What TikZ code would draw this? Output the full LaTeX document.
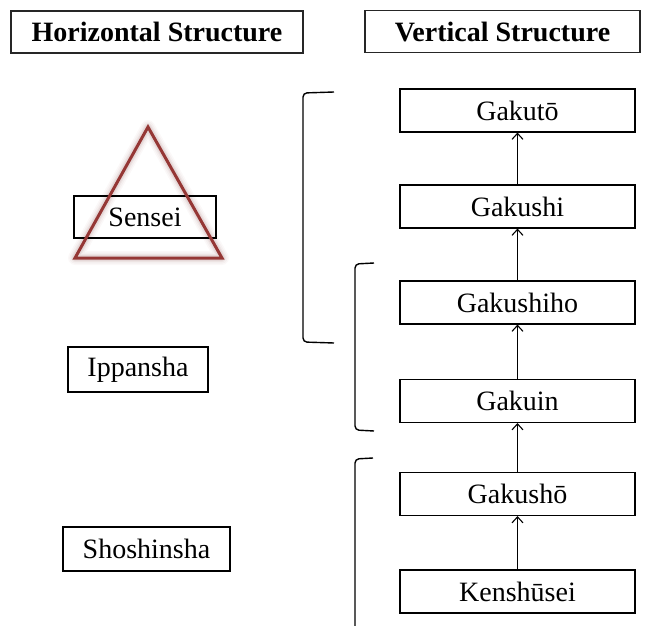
\documentclass[tikz,border=0pt]{standalone}
\usepackage{fontspec}
\setmainfont{Liberation Serif}
\usetikzlibrary{arrows.meta}
\definecolor{tri}{HTML}{953735}
\tikzset{
  box/.style={draw=black, line width=1.1pt, minimum width=235pt, minimum height=43pt, inner sep=0pt, font=\fontsize{28}{32}\selectfont},
  lbox/.style={draw=black, line width=1.1pt, minimum height=43pt, inner sep=0pt, font=\fontsize{28}{32}\selectfont},
  head/.style={draw=black!85, line width=1.4pt, minimum height=42pt, inner sep=0pt, font=\bfseries\fontsize{28}{32}\selectfont},
  up/.style={line width=1.1pt, -{Straight Barb[length=6pt,width=11pt,line width=1.1pt]}},
  brk/.style={line width=1.4pt, rounded corners=4pt},
}
\begin{document}
\begin{tikzpicture}[x=1pt,y=-1pt]
\useasboundingbox (0,0) rectangle (657,626);
% triangle with soft glow
\coordinate (ta) at (148,127);
\coordinate (tb) at (75,258);
\coordinate (tc) at (222,258);
\foreach \w/\o in {14/0.04,11/0.05,8/0.07,6/0.09}{
  \draw[line width=\w pt, line join=round, tri!60!gray, opacity=\o] (ta) -- (tb) -- (tc) -- cycle;
}
% headers
\node[head, minimum width=292pt] (hs) at (157,32) {Horizontal Structure};
\node[head, minimum width=275pt] (vs) at (502.5,31.5) {Vertical Structure};
% left nodes
\node[lbox, minimum width=142pt, minimum height=42pt] (sensei) at (145,217) {Sensei};
\draw[line width=3pt, line join=miter, tri] (ta) -- (tb) -- (tc) -- cycle;
\node[lbox, minimum width=140pt, minimum height=45pt] (ippansha) at (138,369.5) {Ippansha};
\node[lbox, minimum width=167pt, minimum height=44pt] (shoshinsha) at (146.5,549) {Shoshinsha};
% right column
\node[box] (gakuto) at (517.5,110.5) {Gakutō};
\node[box] (gakushi) at (517.5,206.5) {Gakushi};
\node[box] (gakushiho) at (517.5,302.5) {Gakushiho};
\node[box] (gakuin) at (517.5,401) {Gakuin};
\node[box] (gakusho) at (517.5,494) {Gakushō};
\node[box] (kenshusei) at (517.5,591.5) {Kenshūsei};
\draw[up] (kenshusei) -- (gakusho);
\draw[up] (gakusho) -- (gakuin);
\draw[up] (gakuin) -- (gakushiho);
\draw[up] (gakushiho) -- (gakushi);
\draw[up] (gakushi) -- (gakuto);
% brackets
\coordinate (b1a) at (334,92);
\coordinate (b1b) at (334,343);
\draw[brk] (b1a) -- (303,93) -- (303,342) -- (b1b);
\coordinate (b2a) at (374,263);
\coordinate (b2b) at (374,431);
\draw[brk] (b2a) -- (355,264) -- (355,430) -- (b2b);
\coordinate (b3a) at (373,458);
\coordinate (b3b) at (355,626);
\draw[brk] (b3a) -- (355,459) -- (b3b);
\end{tikzpicture}
\end{document}
